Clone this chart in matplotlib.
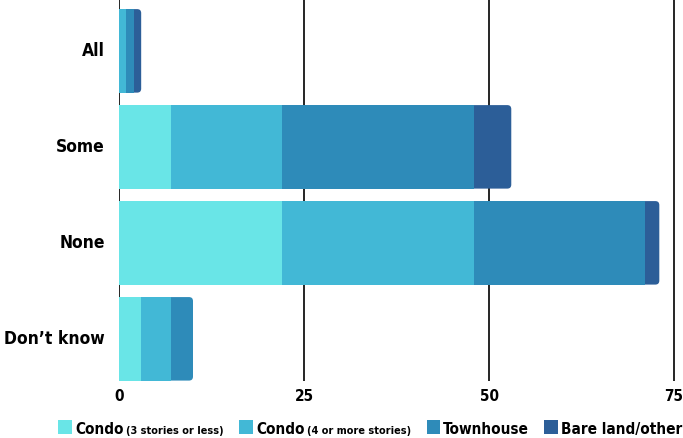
import numpy as np
import matplotlib.pyplot as plt
from matplotlib.offsetbox import HPacker, TextArea, DrawingArea, AnchoredOffsetbox
from matplotlib.patches import Rectangle, FancyBboxPatch

categorias = ["All", "Some", "None", "Don\u2019t know"]
condo_bajo = [0, 7, 22, 3]
condo_alto = [1, 15, 26, 4]
townhouse = [1, 26, 23, 3]
terreno = [1, 5, 2, 0]

series = [condo_bajo, condo_alto, townhouse, terreno]
nombres = ["Condo", "Condo", "Townhouse", "Bare land/other"]
subtitulos = ["(3 stories or less)", "(4 or more stories)", "", ""]
colores = ["#69e5e7", "#42b8d6", "#2e8bb9", "#2c5e98"]

fuente = dict(family="DejaVu Sans", weight="bold", stretch="condensed")

fig = plt.figure(figsize=(6.83, 4.38), dpi=100)
ax = fig.add_axes([0.1742, 0.13, 0.8258, 0.87])

alto = 0.87
xmax = 76.2
ymin, ymax = 3.44, -0.53
ax.set_xlim(0, xmax)
ax.set_ylim(ymin, ymax)

y = np.arange(len(categorias))
izq = np.zeros(len(categorias))
# el ultimo tramo de cada barra va con esquinas redondeadas
ultimo = []
for i in range(len(categorias)):
    k = max(j for j in range(len(series)) if series[j][i] > 0)
    ultimo.append(k)

# radio ~4px en unidades de x, y aspecto para que el redondeo quede parejo
px_x = 0.8258 * 683 / xmax
px_y = 0.87 * 438 / abs(ymin - ymax)
r = 4 / px_x
for j, (vals, c) in enumerate(zip(series, colores)):
    for i in range(len(categorias)):
        v = vals[i]
        if v <= 0:
            continue
        if ultimo[i] == j:
            x0 = izq[i] - r if izq[i] > 0 else izq[i]
            p = FancyBboxPatch((x0, y[i] - alto / 2), izq[i] + v - x0, alto,
                               boxstyle=f"round,pad=0,rounding_size={r}",
                               mutation_aspect=px_x / px_y,
                               fc=c, ec="none", zorder=1.5)
            ax.add_patch(p)
        else:
            ax.barh(y[i], v, left=izq[i], height=alto, color=c, zorder=2)
    izq += np.array(vals)

ax.set_xticks([0, 25, 50, 75])
ax.set_yticks(y)
ax.set_yticklabels(categorias, fontsize=12.5, va="center", **fuente)
for lbl in ax.get_xticklabels():
    lbl.set_fontsize(11)
    lbl.set_fontweight("bold")
    lbl.set_fontstretch("condensed")
ax.tick_params(length=0, pad=10)
ax.tick_params(axis="x", pad=6)
ax.grid(axis="x", color="black", linewidth=1.2, zorder=0)
ax.set_axisbelow(True)
for s in ax.spines.values():
    s.set_visible(False)

# leyenda a mano
entradas = []
for nom, sub, c in zip(nombres, subtitulos, colores):
    da = DrawingArea(10, 10, 0, 0)
    da.add_artist(Rectangle((0, 0), 10, 10, fc=c, ec="none"))
    hijos = [da, TextArea(nom, textprops=dict(size=11, **fuente))]
    if sub:
        hijos.append(TextArea(sub, textprops=dict(size=7.8, **fuente)))
    entradas.append(HPacker(children=hijos, pad=0, sep=2, align="baseline"))
caja = HPacker(children=entradas, pad=0, sep=11, align="baseline")
anc = AnchoredOffsetbox(loc="lower right", child=caja, pad=0, borderpad=0.05,
                        bbox_to_anchor=(1.0, 0.0), bbox_transform=fig.transFigure,
                        frameon=False)
fig.add_artist(anc)

plt.savefig("out.png", dpi=100)
